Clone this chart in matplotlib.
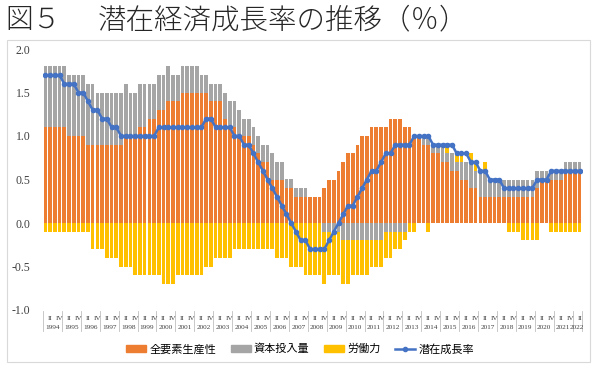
import numpy as np
import matplotlib.pyplot as plt
from matplotlib.patches import Patch, Rectangle
from matplotlib.lines import Line2D

plt.rcParams['font.family'] = ['Noto Sans CJK JP', 'DejaVu Sans']

# quarterly data, 1994 I - 2022 II (contributions, %)
years = [str(y) for y in range(1994, 2023)]

tfp = [
    1.1, 1.1, 1.1, 1.1,  # 1994
    1.1, 1.0, 1.0, 1.0,  # 1995
    1.0, 0.9, 0.9, 0.9,  # 1996
    0.9, 0.9, 0.9, 0.9,  # 1997
    0.9, 1.0, 1.0, 1.0,  # 1998
    1.1, 1.1, 1.2, 1.2,  # 1999
    1.3, 1.3, 1.4, 1.4,  # 2000
    1.4, 1.5, 1.5, 1.5,  # 2001
    1.5, 1.5, 1.5, 1.4,  # 2002
    1.4, 1.4, 1.2, 1.1,  # 2003
    1.1, 1.0, 1.0, 1.0,  # 2004
    0.9, 0.8, 0.7, 0.7,  # 2005
    0.5, 0.5, 0.5, 0.4,  # 2006
    0.4, 0.3, 0.3, 0.3,  # 2007
    0.3, 0.3, 0.3, 0.4,  # 2008
    0.5, 0.5, 0.6, 0.7,  # 2009
    0.8, 0.8, 0.9, 1.0,  # 2010
    1.0, 1.1, 1.1, 1.1,  # 2011
    1.1, 1.2, 1.2, 1.2,  # 2012
    1.1, 1.1, 1.0, 1.0,  # 2013
    0.9, 0.9, 0.8, 0.8,  # 2014
    0.7, 0.7, 0.6, 0.6,  # 2015
    0.5, 0.5, 0.4, 0.4,  # 2016
    0.3, 0.3, 0.3, 0.3,  # 2017
    0.3, 0.3, 0.3, 0.3,  # 2018
    0.3, 0.3, 0.3, 0.3,  # 2019
    0.4, 0.5, 0.5, 0.5,  # 2020
    0.5, 0.5, 0.6, 0.6,  # 2021
    0.6, 0.6,            # 2022
]

capital = [
    0.7, 0.7, 0.7, 0.7,
    0.7, 0.7, 0.7, 0.7,
    0.7, 0.7, 0.7, 0.6,
    0.6, 0.6, 0.6, 0.6,
    0.6, 0.6, 0.5, 0.5,
    0.5, 0.5, 0.4, 0.4,
    0.4, 0.4, 0.4, 0.3,
    0.3, 0.3, 0.3, 0.3,
    0.3, 0.2, 0.2, 0.2,
    0.2, 0.2, 0.3, 0.3,
    0.3, 0.3, 0.2, 0.2,
    0.2, 0.2, 0.2, 0.2,
    0.3, 0.2, 0.2, 0.1,
    0.1, 0.1, 0.1, 0.1,
    0.0, 0.0, 0.0, -0.1,
    -0.1, -0.1, -0.1, -0.2,
    -0.2, -0.2, -0.2, -0.2,
    -0.2, -0.2, -0.2, -0.2,
    -0.1, -0.1, -0.1, -0.1,
    -0.1, 0.0, 0.0, 0.0,
    0.1, 0.1, 0.1, 0.1,
    0.2, 0.1, 0.2, 0.1,
    0.2, 0.2, 0.3, 0.2,
    0.3, 0.3, 0.2, 0.2,
    0.2, 0.2, 0.2, 0.2,
    0.2, 0.2, 0.2, 0.2,
    0.2, 0.1, 0.1, 0.1,
    0.1, 0.1, 0.1, 0.1,
    0.1, 0.1,
]

labor = [
    -0.1, -0.1, -0.1, -0.1,
    -0.1, -0.1, -0.1, -0.1,
    -0.1, -0.1, -0.3, -0.3,
    -0.3, -0.4, -0.4, -0.4,
    -0.5, -0.5, -0.5, -0.6,
    -0.6, -0.6, -0.6, -0.6,
    -0.6, -0.7, -0.7, -0.7,
    -0.6, -0.6, -0.6, -0.6,
    -0.6, -0.6, -0.5, -0.5,
    -0.4, -0.4, -0.4, -0.4,
    -0.3, -0.3, -0.3, -0.3,
    -0.3, -0.3, -0.3, -0.3,
    -0.3, -0.4, -0.4, -0.4,
    -0.5, -0.5, -0.5, -0.6,
    -0.6, -0.6, -0.6, -0.6,
    -0.5, -0.5, -0.5, -0.5,
    -0.5, -0.4, -0.4, -0.4,
    -0.4, -0.3, -0.3, -0.3,
    -0.3, -0.3, -0.2, -0.2,
    -0.1, -0.1, -0.1, 0.0,
    0.0, -0.1, 0.0, 0.0,
    0.0, 0.1, 0.0, 0.1,
    0.1, 0.0, 0.1, 0.1,
    0.0, 0.1, 0.0, 0.0,
    0.0, 0.0, -0.1, -0.1,
    -0.1, -0.2, -0.2, -0.2,
    -0.2, 0.0, 0.0, -0.1,
    -0.1, -0.1, -0.1, -0.1,
    -0.1, -0.1,
]

potential = [
    1.7, 1.7, 1.7, 1.7,
    1.6, 1.6, 1.6, 1.5,
    1.5, 1.4, 1.3, 1.3,
    1.2, 1.2, 1.1, 1.1,
    1.0, 1.0, 1.0, 1.0,
    1.0, 1.0, 1.0, 1.0,
    1.1, 1.1, 1.1, 1.1,
    1.1, 1.1, 1.1, 1.1,
    1.1, 1.1, 1.2, 1.2,
    1.1, 1.1, 1.1, 1.1,
    1.0, 1.0, 0.9, 0.9,
    0.8, 0.7, 0.6, 0.5,
    0.4, 0.3, 0.2, 0.1,
    0.0, -0.1, -0.2, -0.2,
    -0.3, -0.3, -0.3, -0.3,
    -0.2, -0.1, 0.0, 0.1,
    0.2, 0.2, 0.3, 0.4,
    0.5, 0.6, 0.6, 0.7,
    0.8, 0.8, 0.9, 0.9,
    0.9, 0.9, 1.0, 1.0,
    1.0, 1.0, 0.9, 0.9,
    0.9, 0.9, 0.9, 0.8,
    0.8, 0.8, 0.7, 0.7,
    0.6, 0.6, 0.5, 0.5,
    0.5, 0.4, 0.4, 0.4,
    0.4, 0.4, 0.4, 0.4,
    0.5, 0.5, 0.5, 0.6,
    0.6, 0.6, 0.6, 0.6,
    0.6, 0.6,
]

names = ['全要素生産性', '資本投入量', '労働力', '潜在成長率']
colors = ['#ED7D31', '#A5A5A5', '#FFC000', '#4472C4']

fig = plt.figure(figsize=(6, 3.73), dpi=100)
ax = fig.add_axes([43 / 600, 1 - 310 / 373, 539 / 600, 261 / 373])

x = np.arange(len(tfp))
pos_base = np.zeros(len(x))
neg_base = np.zeros(len(x))
for vals, c in zip([tfp, capital, labor], colors[:3]):
    v = np.array(vals)
    bottom = np.where(v >= 0, pos_base, neg_base)
    ax.bar(x, v, bottom=bottom, width=0.78, color=c, edgecolor='none')
    pos_base += np.where(v > 0, v, 0)
    neg_base += np.where(v < 0, v, 0)

ax.plot(x, potential, color=colors[3], lw=1.8, marker='o', ms=3, zorder=5)

ax.set_xlim(-0.5, len(x) - 0.5)
ax.set_ylim(-1.0, 2.0)
ax.set_yticks(np.arange(-1.0, 2.01, 0.5))
ax.set_yticklabels(['%.1f' % t for t in np.arange(-1.0, 2.01, 0.5)],
                   family='Liberation Serif', fontsize=8.5, color='#404040')
ax.tick_params(axis='y', length=0, pad=9)
ax.set_xticks([])
for s in ax.spines.values():
    s.set_visible(False)

# category labels: quarter row and year row
tr = ax.get_xaxis_transform()
for k, yr in enumerate(years):
    base = 4 * k
    n = min(4, len(x) - base)
    for q, lab in [(1, 'II'), (3, 'IV')]:
        if q < n:
            ax.text(base + q, -0.032, lab, transform=tr, ha='center', va='center',
                    family='Liberation Serif', fontsize=5.2, color='#404040')
    ax.text(base + (n - 1) / 2, -0.066, yr, transform=tr, ha='center', va='center',
            family='Liberation Serif', fontsize=5.2, color='#404040')
    ax.plot([base - 0.5, base - 0.5], [-0.005, -0.08], transform=tr, clip_on=False,
            color='#BFBFBF', lw=0.6)
ax.plot([len(x) - 0.5] * 2, [-0.005, -0.08], transform=tr, clip_on=False,
        color='#BFBFBF', lw=0.6)

# chart border and title
fig.add_artist(Rectangle((7 / 600, 1 - 362 / 373), 583 / 600, 322 / 373,
                         transform=fig.transFigure, fill=False, ec='#D9D9D9', lw=0.8))
fig.text(5 / 600, 1 - 20 / 373, '図５', fontsize=20, fontweight='light',
         va='center', ha='left', color='#262626')
fig.text(98 / 600, 1 - 20 / 373, '潜在経済成長率の推移（％）', fontsize=20.5,
         fontweight='light', va='center', ha='left', color='#262626')

handles = [Patch(color=c) for c in colors[:3]]
handles.append(Line2D([], [], color=colors[3], lw=1.8, marker='o', ms=3))
fig.legend(handles, names, loc='center', bbox_to_anchor=(0.5, 1 - 349 / 373), ncol=4,
           frameon=False, fontsize=8, handlelength=1.8, handleheight=0.5,
           handletextpad=0.3, columnspacing=1.3)

fig.savefig('out.png', dpi=100)
